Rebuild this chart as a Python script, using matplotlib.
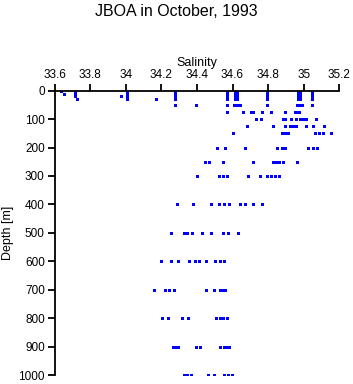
import matplotlib.pyplot as plt

plt.rcParams['font.family'] = ['Liberation Sans', 'DejaVu Sans']

# Near-surface profiles (0-30 m), one list of salinities per depth
top_depths = [0, 5, 10, 15, 20, 25, 30]
top_sal = {
    0: [33.635, 33.715, 34.01, 34.277, 34.571, 34.614, 34.795, 34.97, 35.045],
    5: [33.715, 34.01, 34.277, 34.571, 34.614, 34.627, 34.795, 34.97, 34.98, 35.045],
    10: [33.655, 33.715, 34.01, 34.277, 34.571, 34.614, 34.627, 34.795, 34.97, 34.98, 35.045],
    15: [33.715, 34.01, 34.277, 34.571, 34.614, 34.627, 34.795, 34.97, 34.98, 35.045],
    20: [33.715, 33.975, 34.01, 34.277, 34.571, 34.614, 34.627, 34.795, 34.97, 34.98, 35.045],
    25: [34.01, 34.277, 34.571, 34.614, 34.627, 34.795, 34.97, 34.98, 35.045],
    30: [33.728, 34.01, 34.17, 34.277, 34.571, 34.614, 34.627, 34.795, 34.97, 34.98, 35.045],
}

# Deeper levels
deep_sal = {
    50: [34.277, 34.397, 34.571, 34.61, 34.625, 34.64, 34.795, 34.96, 34.975, 34.99, 35.045],
    75: [34.571, 34.661, 34.705, 34.715, 34.764, 34.818, 34.897, 34.951, 34.962, 34.974],
    100: [34.732, 34.762, 34.884, 34.895, 34.929, 34.957, 34.979, 34.996, 35.013, 35.069],
    125: [34.683, 34.829, 34.895, 34.923, 34.94, 34.957, 35.013, 35.054, 35.114],
    150: [34.601, 34.878, 34.895, 34.912, 35.065, 35.086, 35.107, 35.152],
    200: [34.511, 34.56, 34.672, 34.852, 34.878, 34.895, 35.026, 35.051, 35.073],
    250: [34.447, 34.47, 34.548, 34.717, 34.827, 34.844, 34.861, 34.882, 34.964],
    300: [34.402, 34.526, 34.545, 34.571, 34.685, 34.754, 34.794, 34.816, 34.838, 34.861],
    400: [34.287, 34.38, 34.479, 34.522, 34.552, 34.579, 34.642, 34.67, 34.713, 34.766],
    500: [34.254, 34.329, 34.346, 34.371, 34.43, 34.478, 34.548, 34.573, 34.629],
    600: [34.197, 34.254, 34.292, 34.354, 34.391, 34.413, 34.453, 34.503, 34.53, 34.554],
    700: [34.161, 34.221, 34.245, 34.271, 34.453, 34.498, 34.53, 34.544, 34.558],
    800: [34.202, 34.236, 34.318, 34.352, 34.507, 34.53, 34.549, 34.571],
    900: [34.267, 34.281, 34.296, 34.395, 34.417, 34.53, 34.554, 34.568, 34.582],
    1000: [34.327, 34.347, 34.367, 34.462, 34.498, 34.552, 34.575, 34.596],
}

sal = []
depth = []
for d in top_depths:
    for s in top_sal[d]:
        sal.append(s)
        depth.append(d)
for d, vals in deep_sal.items():
    for s in vals:
        sal.append(s)
        depth.append(d)

fig = plt.figure(figsize=(3.53, 3.84), dpi=100)
ax = fig.add_axes([0.1544, 0.0234, 0.8068, 0.7404])

ax.plot(sal, depth, 's', color='#0000ff', markersize=2.16, markeredgewidth=0,
        antialiased=False)

ax.set_xlim(33.6, 35.2)
ax.set_ylim(1000, 0)
ax.set_xticks([33.6, 33.8, 34.0, 34.2, 34.4, 34.6, 34.8, 35.0, 35.2])
ax.set_xticklabels(['33.6', '33.8', '34', '34.2', '34.4', '34.6', '34.8', '35', '35.2'])
ax.set_yticks(range(0, 1001, 100))

ax.xaxis.tick_top()
ax.xaxis.set_label_position('top')
ax.set_xlabel('Salinity', fontsize=9, labelpad=2)
ax.set_ylabel('Depth [m]', fontsize=9, labelpad=3)
ax.tick_params(labelsize=8.5, width=1.3, length=5, direction='out', pad=2)

for side in ['right', 'bottom']:
    ax.spines[side].set_visible(False)
for side in ['left', 'top']:
    ax.spines[side].set_linewidth(1.3)

fig.suptitle('JBOA in October, 1993', fontsize=11.5, y=0.99)

fig.savefig('out.png', dpi=100)
